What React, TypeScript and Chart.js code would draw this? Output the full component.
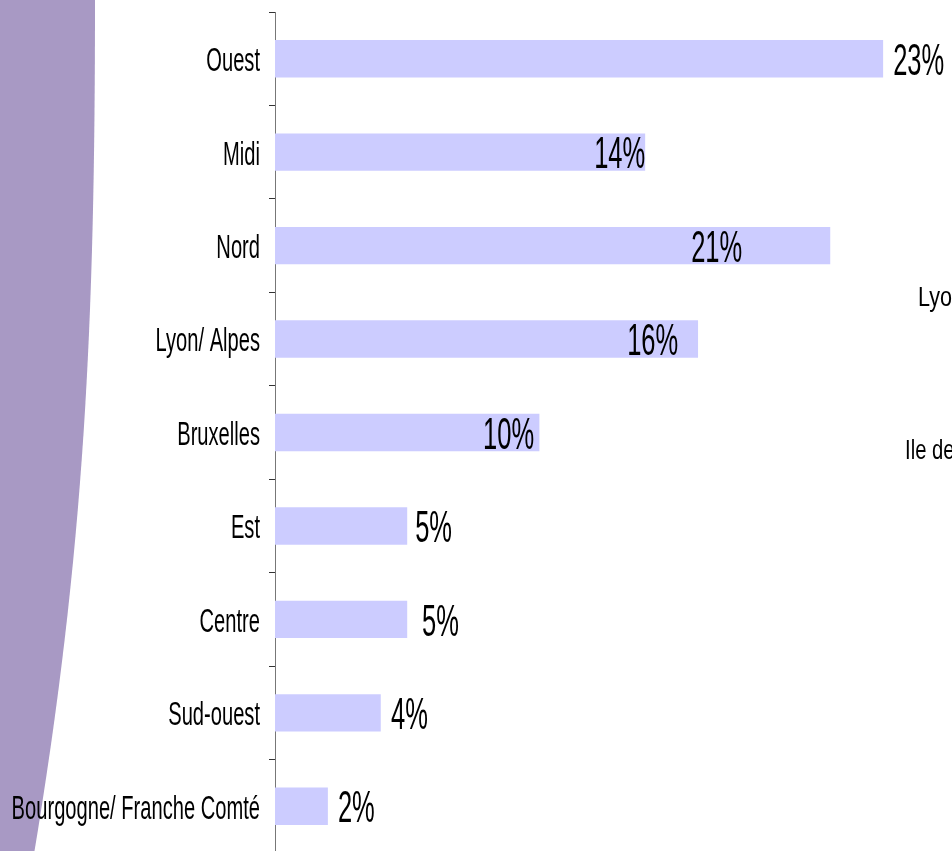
import React, { useEffect, useRef } from "react";
import { Chart, registerables } from "chart.js";

Chart.register(...registerables);

const categories = [
  "Ouest",
  "Midi",
  "Nord",
  "Lyon/ Alpes",
  "Bruxelles",
  "Est",
  "Centre",
  "Sud-ouest",
  "Bourgogne/ Franche Comté",
];
const values = [23, 14, 21, 16, 10, 5, 5, 4, 2];
const valueLabels = ["23%", "14%", "21%", "16%", "10%", "5%", "5%", "4%", "2%"];
// left edge of each value label, in axis units (%)
const valueLabelAt = [23.38, 12.07, 15.74, 13.32, 7.87, 5.3, 5.56, 4.39, 2.38];
const strayTexts = ["Lyon/ Alpes", "Ile de France"];

const BAR_COLOR = "#CCCCFF";
const SHAPE_COLOR = "#A899C4";
const FONT = "'Liberation Sans', Arial, sans-serif";

function drawSquished(ctx: CanvasRenderingContext2D, text: string, x: number, y: number, size: number, sx: number, align: CanvasTextAlign) {
  ctx.save();
  ctx.translate(x, y);
  ctx.scale(sx, 1);
  ctx.font = `${size}px ${FONT}`;
  ctx.textAlign = align;
  ctx.textBaseline = "middle";
  ctx.fillStyle = "#000";
  ctx.fillText(text, 0, 0);
  ctx.restore();
}

const decorPlugin = {
  id: "decor",
  beforeDraw(chart: any) {
    const ctx = chart.ctx as CanvasRenderingContext2D;
    const h = chart.height;
    ctx.save();
    ctx.fillStyle = "#fff";
    ctx.fillRect(0, 0, chart.width, h);
    ctx.fillStyle = SHAPE_COLOR;
    ctx.beginPath();
    ctx.moveTo(0, 0);
    ctx.lineTo(95, 0);
    ctx.bezierCurveTo(95, 320, 85, 550, 33, h);
    ctx.lineTo(0, h);
    ctx.closePath();
    ctx.fill();
    ctx.restore();
  },
  afterDraw(chart: any) {
    const ctx = chart.ctx as CanvasRenderingContext2D;
    const ys = chart.scales.y;
    const xs = chart.scales.x;
    categories.forEach((c, i) => {
      const y = ys.getPixelForValue(i) + 3;
      drawSquished(ctx, c, 260, y, 34, 0.592, "right");
    });
    valueLabels.forEach((t, i) => {
      const y = ys.getPixelForValue(i) + 4;
      drawSquished(ctx, t, xs.getPixelForValue(valueLabelAt[i]), y, 44, 0.58, "left");
    });
    drawSquished(ctx, strayTexts[0], 918, 299, 27, 0.8, "left");
    drawSquished(ctx, strayTexts[1], 905, 452, 27, 0.75, "left");
  },
};

export default function App() {
  const ref = useRef<HTMLCanvasElement | null>(null);
  useEffect(() => {
    if (!ref.current) return;
    const chart = new Chart(ref.current, {
      type: "bar",
      data: {
        labels: categories,
        datasets: [
          {
            data: values,
            backgroundColor: BAR_COLOR,
            borderWidth: 0,
            categoryPercentage: 1,
            barPercentage: 0.4,
          },
        ],
      },
      options: {
        indexAxis: "y",
        animation: false,
        responsive: false,
        maintainAspectRatio: false,
        layout: { padding: { top: 12, bottom: 7, right: 16, left: 0 } },
        plugins: { legend: { display: false }, tooltip: { enabled: false } },
        scales: {
          x: { display: false, min: 0, max: 25 },
          y: {
            display: true,
            ticks: { display: false },
            grid: {
              drawOnChartArea: false,
              drawTicks: true,
              tickLength: 6,
              color: "#333",
              offset: true,
            },
            border: { display: true, color: "#777", width: 1 },
            afterFit: (scale: any) => {
              scale.width = 275;
            },
          },
        },
      },
      plugins: [decorPlugin],
    });
    return () => chart.destroy();
  }, []);
  return (
    <div style={{ position: "fixed", left: 0, top: 0, width: 952, height: 851, overflow: "hidden", background: "#fff" }}>
      <canvas ref={ref} width={952} height={860} style={{ display: "block" }} />
    </div>
  );
}
